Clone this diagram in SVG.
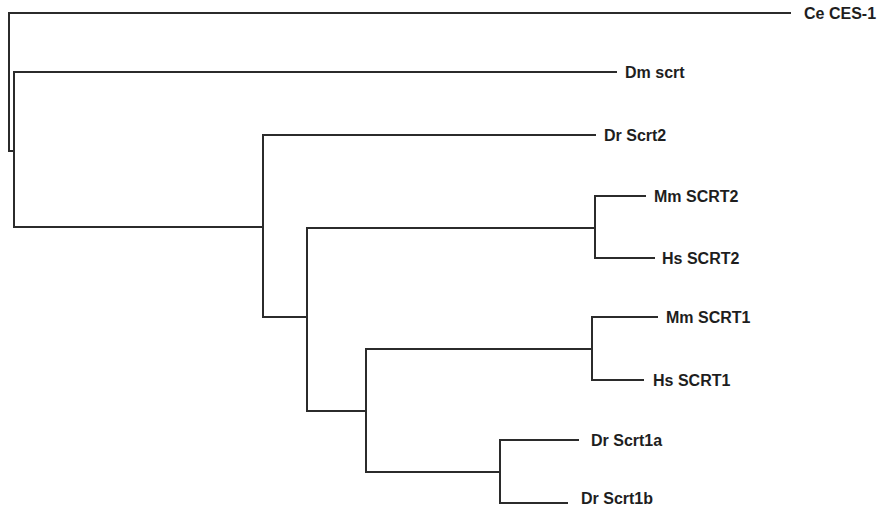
<svg xmlns="http://www.w3.org/2000/svg" width="877" height="508" viewBox="0 0 877 508">
<style>
.e{fill:none;stroke:#2b2b2b;stroke-width:2;stroke-linecap:square;stroke-linejoin:miter}
.t{font-family:"Liberation Sans",Arial,sans-serif;font-weight:bold;font-size:16px;fill:#1e1e1e}
</style>
<rect width="877" height="508" fill="#fff"/>
<g id="connectors">
<path class="e" d="M790,13 H9 V151 H14"/>
<path class="e" d="M616,72 H14 V227 H263"/>
<path class="e" d="M595,135 H263 V317 H307"/>
<path class="e" d="M595,228 H307 V411 H366"/>
<path class="e" d="M645,196 H595 V258 H654"/>
<path class="e" d="M592,349 H366 V472 H500"/>
<path class="e" d="M657,317 H592 V380 H643"/>
<path class="e" d="M578,440 H500 V503 H567"/>
</g>
<g id="ce-ces-1"><text class="t" x="804" y="19">Ce CES-1</text></g>
<g id="dm-scrt"><text class="t" x="625" y="78">Dm scrt</text></g>
<g id="dr-scrt2"><text class="t" x="604" y="141">Dr Scrt2</text></g>
<g id="mm-scrt2"><text class="t" x="654" y="202">Mm SCRT2</text></g>
<g id="hs-scrt2"><text class="t" x="662" y="264">Hs SCRT2</text></g>
<g id="mm-scrt1"><text class="t" x="666" y="323">Mm SCRT1</text></g>
<g id="hs-scrt1"><text class="t" x="653" y="386">Hs SCRT1</text></g>
<g id="dr-scrt1a"><text class="t" x="591" y="446">Dr Scrt1a</text></g>
<g id="dr-scrt1b"><text class="t" x="581" y="504">Dr Scrt1b</text></g>
</svg>
